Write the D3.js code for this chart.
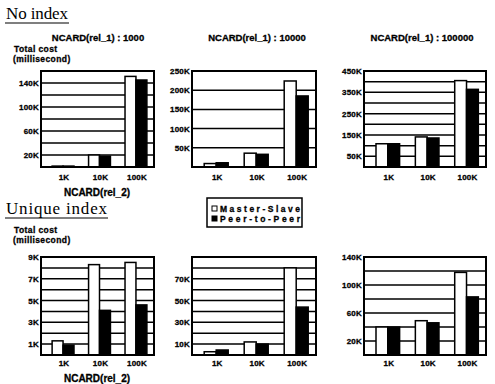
<!DOCTYPE html>
<html>
<head>
<meta charset="utf-8">
<script src="https://cdn.jsdelivr.net/npm/d3@7"></script>
<style>
  body { margin: 0; background: #fff; }
  svg { display: block; }
  text { font-family: "Liberation Sans", Arial, sans-serif; font-weight: bold; fill: #000; }
  .serif { font-family: "Liberation Serif", "Times New Roman", serif; font-weight: normal; }
</style>
</head>
<body>
<figure id="chart" style="margin:0"></figure>
<script>
// data (values in thousands of milliseconds)
const categories = ['1K', '10K', '100K'];
const rel1Labels = ['NCARD(rel_1) : 1000', 'NCARD(rel_1) : 10000', 'NCARD(rel_1) : 100000'];
const seriesNames = ['Master-Slave', 'Peer-to-Peer'];

const noIndexMS  = [[1.5, 20, 151], [9, 36, 224], [109, 141, 405]];
const noIndexP2P = [[1.5, 18, 145], [11, 33, 185], [109, 136, 364]];
const uniqueMS   = [[1.3, 8.3, 8.5], [3, 12, 80], [40, 49, 118]];
const uniqueP2P  = [[0.9, 4.1, 4.6], [4.6, 10, 44], [40, 46, 83]];

const noIndexMax  = [160, 250, 450];
const noIndexGrid = [20, 50, 50];
const noIndexTicks = [[20, 60, 100, 140], [50, 100, 150, 200, 250], [50, 150, 250, 350, 450]];
const uniqueMax  = [9, 90, 140];
const uniqueGrid = [1, 10, 20];
const uniqueTicks = [[1, 3, 5, 7, 9], [10, 30, 50, 70], [20, 60, 100, 140]];

const W = 495, H = 384;
const colX0 = [41, 192, 364];
const colX1 = [154, 316, 486];
const rowY0 = [71, 257];
const rowY1 = [167, 355];

const svg = d3.select('#chart').append('svg')
  .attr('width', W).attr('height', H);

function drawPanel(row, col, ms, p2p, maxV, gridStep, ticks) {
  const x0 = colX0[col], x1 = colX1[col];
  const y0 = rowY0[row], y1 = rowY1[row];

  const xScale = d3.scalePoint()
    .domain(categories)
    .range([x0, x1])
    .padding(0.55)
    .align(0.55);
  const yScale = d3.scaleLinear()
    .domain([0, maxV])
    .range([y1, y0]);
  const bw = xScale.step() * 0.3;

  const g = svg.append('g');

  // grid lines
  g.selectAll('line.grid')
    .data(d3.range(gridStep, maxV, gridStep))
    .enter().append('line')
    .attr('x1', x0).attr('x2', x1)
    .attr('y1', d => yScale(d)).attr('y2', d => yScale(d))
    .attr('stroke', '#000').attr('stroke-width', 1.5);

  // bars
  const rows = categories.map((c, i) => ({ cat: c, ms: ms[i], p2p: p2p[i] }));
  g.selectAll('rect.ms').data(rows).enter().append('rect')
    .attr('x', d => xScale(d.cat) - bw)
    .attr('y', d => yScale(d.ms))
    .attr('width', bw)
    .attr('height', d => y1 - yScale(d.ms))
    .attr('fill', '#fff').attr('stroke', '#000').attr('stroke-width', 1.5);
  g.selectAll('rect.p2p').data(rows).enter().append('rect')
    .attr('x', d => xScale(d.cat))
    .attr('y', d => yScale(d.p2p))
    .attr('width', bw)
    .attr('height', d => y1 - yScale(d.p2p))
    .attr('fill', '#000').attr('stroke', '#000').attr('stroke-width', 1.5);

  // frame
  g.append('rect')
    .attr('x', x0).attr('y', y0)
    .attr('width', x1 - x0).attr('height', y1 - y0)
    .attr('fill', 'none').attr('stroke', '#000').attr('stroke-width', 2);

  // y labels
  g.selectAll('text.ylab').data(ticks).enter().append('text')
    .attr('x', x0 - 2)
    .attr('y', d => yScale(d) + 3)
    .attr('text-anchor', 'end')
    .style('font-size', '8px')
    .style('letter-spacing', '0.2px')
    .style('stroke', '#000').style('stroke-width', 0.3)
    .text(d => d + 'K');

  // x labels
  g.selectAll('text.xlab').data(categories).enter().append('text')
    .attr('x', d => xScale(d) + 1)
    .attr('y', y1 + (row === 0 ? 13 : 11))
    .attr('text-anchor', 'middle')
    .style('font-size', '8px')
    .style('letter-spacing', '0.2px')
    .style('stroke', '#000').style('stroke-width', 0.3)
    .text(d => d);
}

for (let c = 0; c < 3; c++) {
  drawPanel(0, c, noIndexMS[c], noIndexP2P[c], noIndexMax[c], noIndexGrid[c], noIndexTicks[c]);
  drawPanel(1, c, uniqueMS[c], uniqueP2P[c], uniqueMax[c], uniqueGrid[c], uniqueTicks[c]);
}

// section titles
function sectionTitle(txt, x, y, len) {
  svg.append('text').attr('class', 'serif')
    .attr('x', x).attr('y', y)
    .attr('textLength', len)
    .style('font-size', '17px')
    .text(txt);
  svg.append('line')
    .attr('x1', x - 1).attr('x2', x + len + 1)
    .attr('y1', y + 4).attr('y2', y + 4)
    .attr('stroke', '#000').attr('stroke-width', 1.2);
}
sectionTitle('No index', 6, 19, 62);
sectionTitle('Unique index', 6, 214, 101);

// rel_1 headers
const headerX = [98, 257, 422];
rel1Labels.forEach((t, i) => {
  svg.append('text')
    .attr('x', headerX[i]).attr('y', 41)
    .attr('text-anchor', 'middle')
    .style('font-size', '9.5px')
    .style('stroke', '#000').style('stroke-width', 0.3)
    .text(t);
});

// y axis titles
[[52, 62], [233, 243]].forEach(ys => {
  svg.append('text').attr('x', 14).attr('y', ys[0])
    .style('font-size', '8.5px').style('letter-spacing', '0.4px')
    .style('stroke', '#000').style('stroke-width', 0.3).text('Total cost');
  svg.append('text').attr('x', 13).attr('y', ys[1])
    .style('font-size', '8.5px').style('letter-spacing', '0.4px')
    .style('stroke', '#000').style('stroke-width', 0.3).text('(millisecond)');
});

// x axis titles
[196, 382].forEach(y => {
  svg.append('text').attr('x', 97).attr('y', y)
    .attr('text-anchor', 'middle')
    .style('font-size', '10px')
    .style('stroke', '#000').style('stroke-width', 0.3)
    .text('NCARD(rel_2)');
});

// legend
const lg = svg.append('g');
lg.append('rect')
  .attr('x', 207).attr('y', 198).attr('width', 95).attr('height', 29)
  .attr('fill', '#fff').attr('stroke', '#000').attr('stroke-width', 1.5);
seriesNames.forEach((name, i) => {
  lg.append('rect')
    .attr('x', 212).attr('y', 206 + i * 10).attr('width', 5).attr('height', 5)
    .attr('fill', i === 0 ? '#fff' : '#000')
    .attr('stroke', '#000').attr('stroke-width', 1);
  lg.append('text')
    .attr('x', 220).attr('y', 212 + i * 10)
    .attr('textLength', 80)
    .style('font-size', '8.5px')
    .style('stroke', '#000').style('stroke-width', 0.3)
    .text(name);
});
</script>
</body>
</html>
